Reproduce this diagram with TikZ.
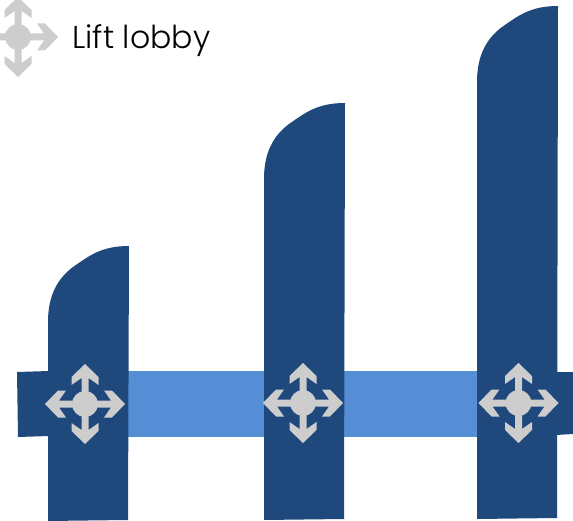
\documentclass[tikz,border=0pt]{standalone}
\usepackage{fontspec}
\setmainfont{Poppins}[UprightFont=* Light]
\usepackage{xcolor}
\definecolor{towerblue}{HTML}{1F497D}
\definecolor{linkblue}{HTML}{558ED5}
\definecolor{lobbygrey}{HTML}{CDCDCD}
\newcommand{\towerpath}[3]{% left x, top y, bottom y
  (#1,#3) -- (#1,#2+76) .. controls (#1,#2+50) and (#1+9,#2+33) .. (#1+25,#2+21)
  .. controls (#1+41,#2+10) and (#1+53,#2) .. (#1+81,#2) -- (#1+80,#3-1) -- cycle}
\tikzset{
  tower/.style={fill=towerblue},
  linkbar/.style={fill=linkblue},
  legendtext/.style={inner sep=0pt,anchor=base west,font=\fontsize{31.6}{32}\selectfont},
  lobbyfill/.style={fill=lobbygrey},
  pics/liftlobby/.style={code={
    \foreach \ang in {0,90,180,270}{
      \fill[lobbyfill,rotate=\ang] (0,-40) -- (13.5,-27) -- (13.5,-19) -- (3.5,-26)
        -- (3.5,0) -- (-3.5,0) -- (-3.5,-26) -- (-13.5,-19) -- (-13.5,-27) -- cycle;
    }
    \fill[lobbyfill] (0,0) circle (13);
  }},
}
\begin{document}
\begin{tikzpicture}[x=1pt,y=-1pt]
\useasboundingbox (0,0) rectangle (573,521);
\clip (0,0) rectangle (573,521);
\fill[linkbar] (128,371) rectangle (478,437);
\fill[tower] (17,372) -- (49,371) -- (49,436) -- (18,437) -- cycle;
\fill[tower] (556,372) -- (573,372) -- (573,434) -- (556,435) -- cycle;
\fill[tower] \towerpath{48}{246}{521};
\fill[tower] \towerpath{264}{103}{520};
\fill[tower] \towerpath{477}{6}{519};
\pic at (85,404) {liftlobby};
\pic at (303,403) {liftlobby};
\pic at (518.5,403) {liftlobby};
\pic at (18,37) {liftlobby};
\node[legendtext] (legend) at (72,49) {Lift lobby};
\end{tikzpicture}
\end{document}
